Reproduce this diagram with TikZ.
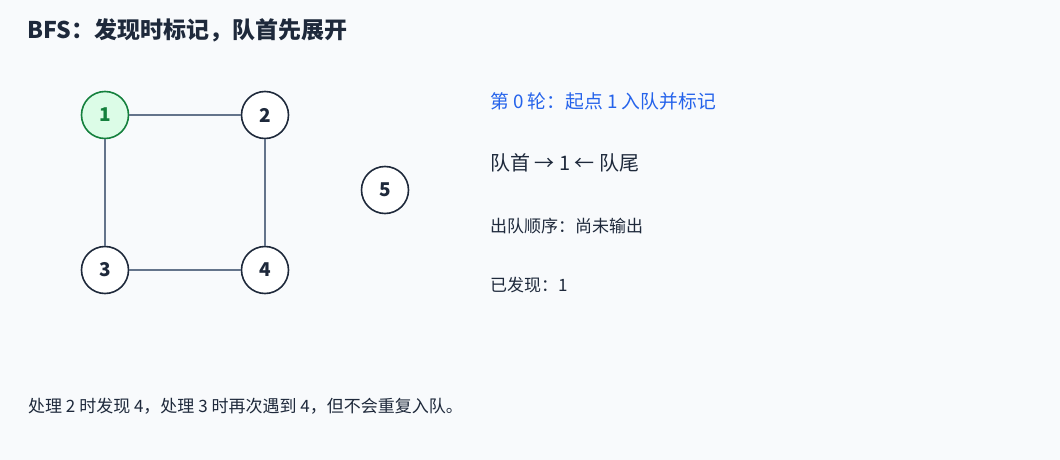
\documentclass[tikz,border=0pt]{standalone}
\usepackage{fontspec}
\setmainfont{Noto Sans CJK SC}
\definecolor{bg}{HTML}{F8FAFC}
\definecolor{ink}{HTML}{1E293B}
\definecolor{edgec}{HTML}{64748B}
\definecolor{gstroke}{HTML}{15803D}
\definecolor{gfill}{HTML}{DCFCE7}
\definecolor{blue}{HTML}{2563EB}
\tikzset{
  vtx/.style={circle,draw=ink,line width=1.6pt,fill=white,minimum size=47pt,inner sep=0pt,font=\fontsize{19}{21}\selectfont\bfseries,text=ink},
  start/.style={vtx,draw=gstroke,fill=gfill,text=gstroke},
  edg/.style={draw=edgec,line width=1.3pt},
  lbl/.style={anchor=west,inner sep=0pt,text=ink}
}
\begin{document}
\begin{tikzpicture}[x=1pt,y=-1pt]
\fill[bg] (0,0) rectangle (1060,460);
\useasboundingbox (0,0) rectangle (1060,460);
\node[lbl,font=\fontsize{23}{27}\selectfont\bfseries] (title) at (27,30) {BFS：发现时标记，队首先展开};
\node[start] (n1) at (105,115) {1};
\node[vtx] (n2) at (265,115) {2};
\node[vtx] (n3) at (105,270) {3};
\node[vtx] (n4) at (265,270) {4};
\node[vtx] (n5) at (385,190) {5};
\draw[edg] (n1) -- (n2);
\draw[edg] (n1) -- (n3);
\draw[edg] (n2) -- (n4);
\draw[edg] (n3) -- (n4);
\node[lbl,text=blue,font=\fontsize{18.8}{22}\selectfont] (round) at (490,101) {第 0 轮：起点 1 入队并标记};
\node[lbl,font=\fontsize{20}{24}\selectfont] (queue) at (490,163) {队首 → 1 ← 队尾};
\node[lbl,font=\fontsize{17}{20}\selectfont] (order) at (490,226) {出队顺序：尚未输出};
\node[lbl,font=\fontsize{17}{20}\selectfont] (found) at (490,285) {已发现：1};
\node[lbl,font=\fontsize{17}{20}\selectfont] (note) at (28,406) {处理 2 时发现 4，处理 3 时再次遇到 4，但不会重复入队。};
\end{tikzpicture}
\end{document}
